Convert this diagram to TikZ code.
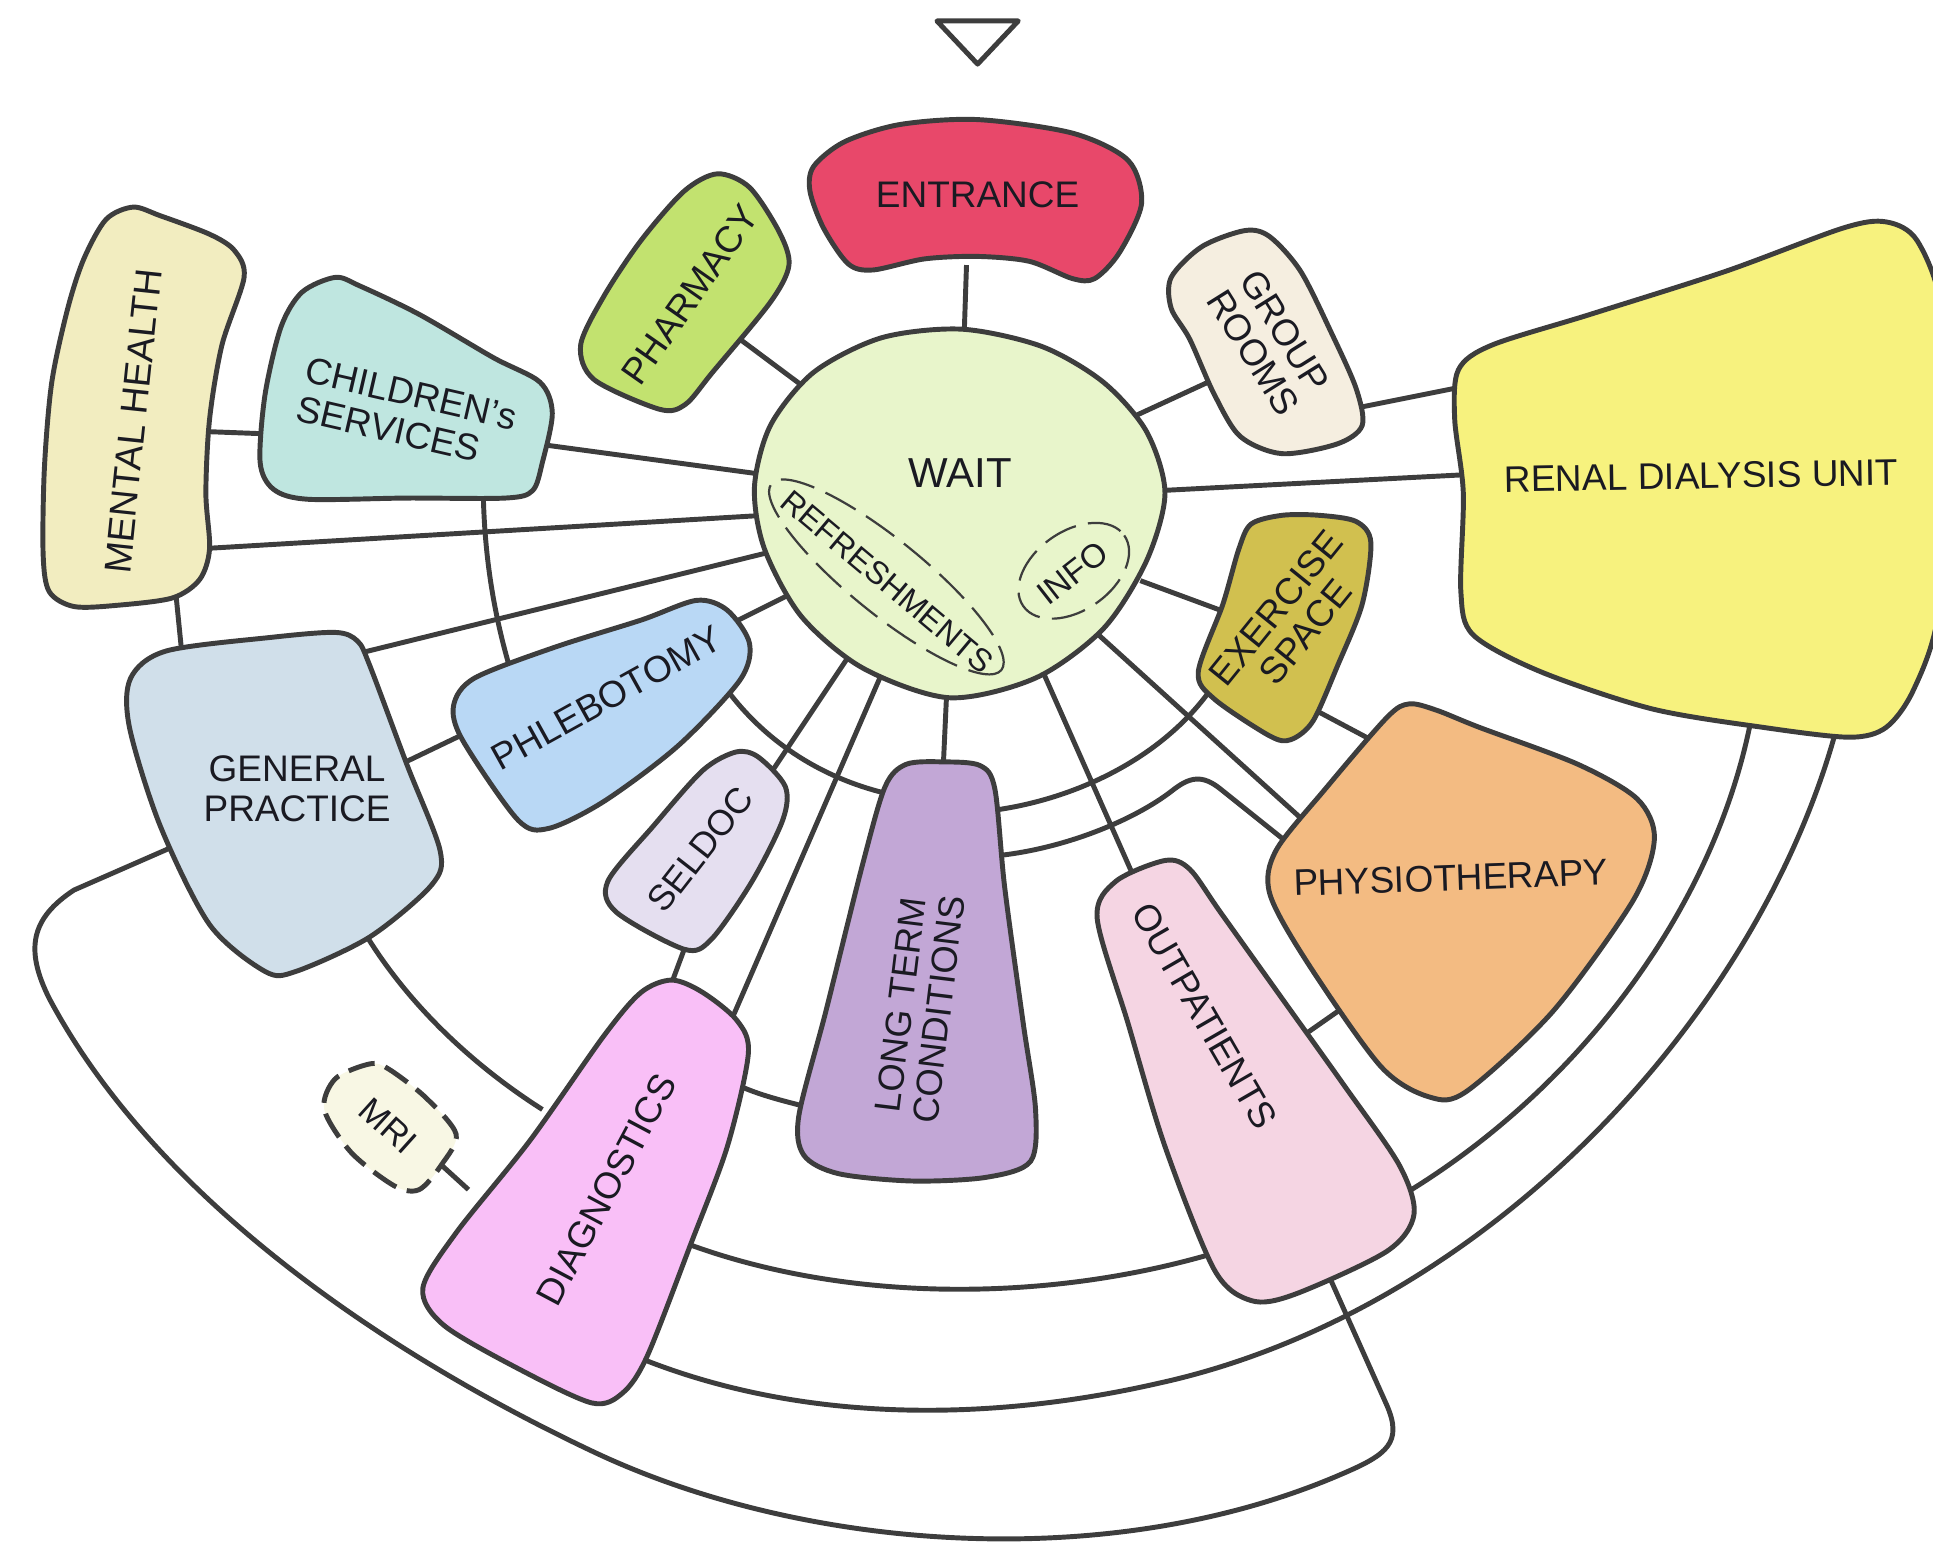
\documentclass[tikz,border=0pt]{standalone}
\usepackage{fontspec}
\setmainfont{Liberation Sans}
\definecolor{ink}{HTML}{3D3D3D}
\definecolor{txt}{HTML}{1A1A22}
\definecolor{mrifill}{HTML}{F8F7E4}
\newcommand{\fs}[2]{\fontsize{#1}{#2}\selectfont}
\tikzset{
 x=1pt,y=-1pt,
 room/.style={draw=ink,line width=4pt,line join=round},
 link/.style={draw=ink,line width=4pt},
 lab/.style={text=txt,inner sep=0pt,align=center,font=\fs{30}{32}},
 dash ring/.style={draw=ink,line width=1.8pt,dash pattern=on 28pt off 10pt},
}
\newcommand{\blob}[2]{\definecolor{blobfill}{HTML}{#1}\draw[room,fill=blobfill] plot[smooth cycle,tension=0.5] coordinates {#2};}
\begin{document}
\begin{tikzpicture}
\useasboundingbox (0,0) rectangle (1568,1255);
\begin{scope}
\clip (0,0) rectangle (1568,1255);
% end points of connectors
\coordinate (eA) at (784,215); \coordinate (wA) at (782,275);
\coordinate (phA) at (600,275); \coordinate (wB) at (655,316);
\coordinate (chA) at (435,360); \coordinate (wC) at (620,385);
\coordinate (mhA) at (165,350); \coordinate (chB) at (218,352);
\coordinate (mhB) at (165,445); \coordinate (wD) at (620,418);
\coordinate (mhC) at (143,485); \coordinate (gpA) at (147,525);
\coordinate (gpB) at (295,529); \coordinate (wE) at (628,447);
\coordinate (chC) at (392,400); \coordinate (pbA) at (413,540);
\coordinate (gpC) at (325,620); \coordinate (pbB) at (375,596);
\coordinate (pbC) at (575,515); \coordinate (wF) at (645,480);
\coordinate (pbD) at (590,560); \coordinate (ltA) at (725,645);
\coordinate (ltB) at (800,658); \coordinate (exA) at (985,555);
\coordinate (sdA) at (620,635); \coordinate (wG) at (692,527);
\coordinate (dgA) at (542,805); \coordinate (sdB) at (558,762);
\coordinate (dgB) at (590,835); \coordinate (wH) at (718,540);
\coordinate (ltC) at (765,625); \coordinate (wI) at (768,560);
\coordinate (otA) at (920,712); \coordinate (wJ) at (846,545);
\coordinate (phyA) at (1060,668); \coordinate (wK) at (890,514);
\coordinate (phyB) at (1112,600); \coordinate (exB) at (1065,575);
\coordinate (exC) at (990,495); \coordinate (wL) at (925,471);
\coordinate (grA) at (980,310); \coordinate (wM) at (915,340);
\coordinate (grB) at (1100,331); \coordinate (reA) at (1190,313);
\coordinate (reB) at (1190,385); \coordinate (wN) at (940,398);
\coordinate (ltD) at (810,694); \coordinate (phyC) at (1055,692);
\coordinate (phyD) at (1100,810); \coordinate (otB) at (1060,838);
\coordinate (reC) at (1422,575); \coordinate (otC) at (1140,968);
\coordinate (otD) at (980,1018); \coordinate (dgC) at (555,1008);
\coordinate (reD) at (1490,590); \coordinate (dgD) at (520,1102);
\coordinate (otE) at (1078,1035); \coordinate (gpD) at (140,687);
\coordinate (gpE) at (293,752); \coordinate (dgE) at (440,900);
\coordinate (dgF) at (598,880); \coordinate (ltE) at (655,898);
\coordinate (mrA) at (358,945); \coordinate (dgG) at (380,965);
% connectors
\draw[link] (eA)--(wA); \draw[link] (phA)--(wB); \draw[link] (chA)--(wC);
\draw[link] (mhA)--(chB); \draw[link] (mhB)--(wD); \draw[link] (mhC)--(gpA);
\draw[link] (gpB)--(wE); \draw[link] (gpC)--(pbB); \draw[link] (pbC)--(wF);
\draw[link] (sdA)--(wG); \draw[link] (dgA)--(sdB); \draw[link] (dgB)--(wH);
\draw[link] (ltC)--(wI); \draw[link] (otA)--(wJ); \draw[link] (phyA)--(wK);
\draw[link] (phyB)--(exB); \draw[link] (exC)--(wL); \draw[link] (grA)--(wM);
\draw[link] (grB)--(reA); \draw[link] (reB)--(wN); \draw[link] (phyD)--(otB);
\draw[link] (mrA)--(dgG);
\draw[link] (chC) .. controls (393,450) and (400,495) .. (pbA);
\draw[link] (pbD) .. controls (620,600) and (665,632) .. (ltA);
\draw[link] (ltB) .. controls (870,650) and (945,615) .. (exA);
\draw[link] (ltD) .. controls (865,688) and (920,665) .. (950,642) .. controls (965,630) and (975,628) .. (990,640) -- (phyC);
\draw[link] (reC) .. controls (1395,730) and (1285,880) .. (otC);
\draw[link] (otD) .. controls (840,1058) and (680,1055) .. (dgC);
\draw[link] (reD) .. controls (1425,830) and (1200,1065) .. (940,1122) .. controls (800,1154) and (650,1154) .. (dgD);
\draw[link] (otE) -- (1125,1140) .. controls (1138,1170) and (1125,1180) .. (1090,1195) .. controls (900,1278) and (650,1258) .. (480,1177) .. controls (290,1087) and (120,960) .. (40,810) .. controls (20,770) and (25,745) .. (60,722) -- (gpD);
\draw[link] (gpE) .. controls (330,815) and (385,865) .. (dgE);
\draw[link] (dgF) .. controls (615,888) and (635,893) .. (ltE);
% rooms
\draw[room] (760,17) -- (826,17) -- (793,52) -- cycle;
\blob{E8486A}{(793,97)(730,101)(685,115)(660,135)(657,155)(668,185)(688,214)(708,219)(750,210)(793,208)(835,212)(870,226)(888,226)(908,205)(926,165)(915,130)(870,108)}
\blob{C2E26F}{(582,141)(555,155)(520,195)(490,240)(471,280)(482,308)(535,332)(556,328)(578,302)(625,245)(640,215)(632,188)(608,152)}
\blob{F2EDC0}{(108,168)(86,178)(68,210)(55,250)(42,310)(36,380)(35,450)(40,480)(60,492)(95,491)(140,485)(162,470)(170,445)(167,400)(170,340)(180,280)(198,225)(190,203)(170,190)(130,175)}
\blob{BFE6E0}{(272,225)(245,237)(228,265)(215,320)(211,375)(222,397)(250,405)(330,404)(410,404)(432,398)(440,375)(448,335)(438,310)(400,290)(340,255)(292,232)}
\blob{D0DFEA}{(272,513)(220,517)(135,528)(106,550)(105,590)(130,670)(170,750)(215,788)(240,788)(300,760)(350,718)(357,690)(330,620)(300,540)(290,520)}
\blob{B9D8F5}{(565,487)(520,503)(450,525)(385,550)(368,572)(375,600)(420,665)(445,672)(490,650)(550,605)(600,552)(608,522)(590,495)}
\blob{E5DFF0}{(597,610)(570,625)(530,670)(493,715)(500,740)(555,770)(577,762)(610,715)(635,665)(637,638)(615,614)}
\blob{F9BFF7}{(545,795)(520,805)(490,840)(430,925)(370,1000)(343,1045)(360,1075)(420,1110)(480,1138)(505,1130)(525,1100)(560,1010)(590,930)(607,855)(598,828)(570,805)}
\blob{C2A7D6}{(735,620)(718,638)(700,700)(670,820)(648,905)(652,937)(680,952)(740,958)(800,955)(836,942)(840,900)(830,830)(815,720)(807,640)(795,621)(765,618)}
\blob{F5D5E3}{(945,698)(905,715)(890,745)(915,830)(945,930)(985,1030)(1015,1055)(1050,1050)(1125,1015)(1147,985)(1135,945)(1090,880)(1040,810)(990,740)(965,705)}
\blob{F3BB82}{(1143,571)(1125,582)(1075,640)(1035,690)(1030,725)(1060,780)(1120,865)(1160,890)(1190,885)(1260,820)(1325,730)(1342,680)(1328,648)(1280,620)(1200,590)(1165,576)}
\blob{D1C04F}{(1040,418)(1015,425)(1005,445)(992,490)(972,545)(985,567)(1030,597)(1047,600)(1065,585)(1085,540)(1105,490)(1112,440)(1100,423)(1070,418)}
\blob{F5EEE0}{(1010,187)(975,200)(950,225)(950,250)(965,275)(985,320)(1006,354)(1040,368)(1085,360)(1105,345)(1100,315)(1080,270)(1055,220)(1030,192)}
\blob{F7F27E}{(1530,180)(1495,185)(1400,220)(1290,255)(1210,280)(1183,300)(1180,340)(1187,400)(1185,480)(1195,515)(1250,545)(1340,575)(1430,590)(1500,598)(1530,590)(1552,560)(1572,500)(1582,370)(1575,250)(1555,195)}
\blob{E8F5CB}{(780,267)(715,274)(660,302)(625,345)(612,395)(620,445)(650,500)(700,542)(770,566)(840,550)(895,510)(930,455)(945,400)(930,350)(895,310)(845,281)}
\draw[dash ring] (719,468) ellipse [x radius=120,y radius=30,rotate=-39];
\draw[dash ring] (871,463) ellipse [x radius=50,y radius=32,rotate=35];
\draw[room,fill=mrifill,dash pattern=on 22pt off 9pt] plot[smooth cycle,tension=0.5] coordinates {(300,863)(272,875)(263,900)(285,935)(320,962)(340,965)(358,945)(370,920)(345,890)(315,867)};
\end{scope}
% labels
\node[lab] (entrance) at (793,158) {ENTRANCE};
\node[lab,font=\fs{34}{36}] (wait) at (779,384) {WAIT};
\node[lab,rotate=55] (pharmacy) at (560,239) {PHARMACY};
\node[lab,rotate=84,font=\fs{30.5}{32}] (mental) at (108,342) {MENTAL HEALTH};
\node[lab,rotate=-13,align=left] (children) at (330,335) {CHILDREN's\\SERVICES};
\node[lab] (gp) at (241,640) {GENERAL\\PRACTICE};
\node[lab,rotate=29] (phleb) at (492,566) {PHLEBOTOMY};
\node[lab,rotate=52,font=\fs{29}{30}] (seldoc) at (568,689) {SELDOC};
\node[lab,rotate=62] (diag) at (492,965) {DIAGNOSTICS};
\node[lab,rotate=83,font=\fs{29.5}{31}] (lt) at (746,817) {LONG TERM\\CONDITIONS};
\node[lab,rotate=-60] (outp) at (977,824) {OUTPATIENTS};
\node[lab,rotate=2] (physio) at (1177,712) {PHYSIOTHERAPY};
\node[lab,rotate=51,font=\fs{30}{31}] (exercise) at (1047,503) {EXERCISE\\SPACE};
\node[lab,rotate=-58,font=\fs{30}{31},align=left] (group) at (1030,278) {GROUP\\ROOMS};
\node[lab,rotate=1,font=\fs{30}{32}] (renal) at (1380,386) {RENAL DIALYSIS UNIT};
\node[lab,rotate=-40,font=\fs{26}{28}] (refresh) at (720,472) {REFRESHMENTS};
\node[lab,rotate=38,font=\fs{27}{29}] (info) at (870,465) {INFO};
\node[lab,rotate=-42,font=\fs{28}{30}] (mri) at (315,913) {MRI};
\end{tikzpicture}
\end{document}
